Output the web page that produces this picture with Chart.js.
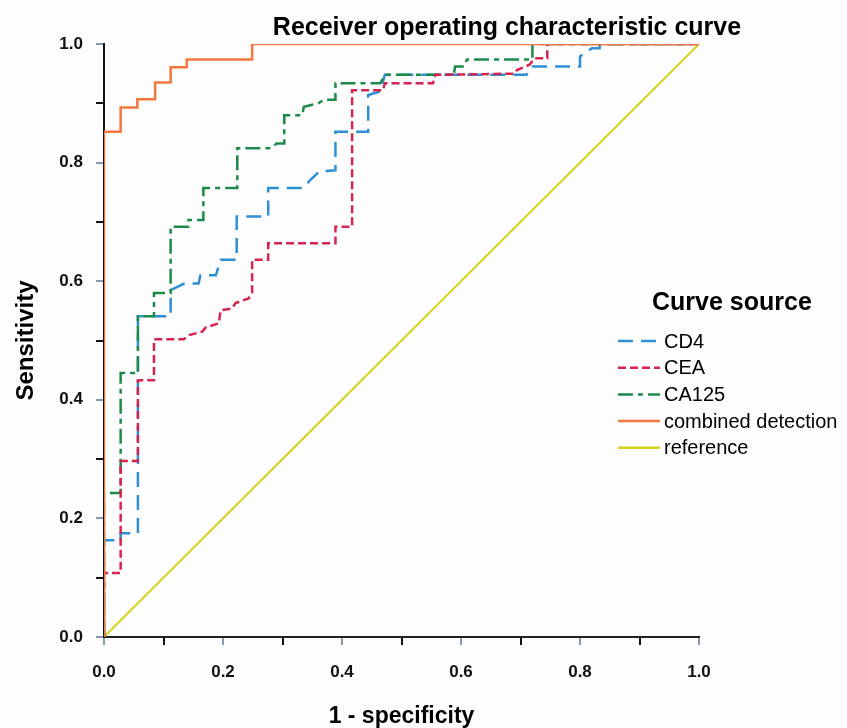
<!DOCTYPE html>
<html lang="en">
<head>
<meta charset="UTF-8">
<title>ROC curve</title>
<script src="https://cdn.jsdelivr.net/npm/chart.js"></script>
<style>
  * { margin: 0; padding: 0; box-sizing: border-box; }
  body { background: #fdfdfd; }
  .chartBox { width: 847px; height: 728px; }
</style>
</head>
<body>
<div class="chartBox">
  <canvas id="myChart" width="847" height="728"></canvas>
</div>

<script>
// data block
const seriesNames = ['CD4', 'CEA', 'CA125', 'combined detection', 'reference'];

const cd4Fpr  = [0, 0, 0.028, 0.028, 0.057, 0.057, 0.112, 0.112, 0.135, 0.159, 0.162, 0.188, 0.196, 0.223, 0.223, 0.276, 0.276, 0.335, 0.347, 0.362, 0.389, 0.389, 0.444, 0.444, 0.464, 0.472, 0.71, 0.72, 0.80, 0.80, 0.82, 0.833, 0.833, 1];
const cd4Sens = [0, 0.163, 0.163, 0.175, 0.175, 0.541, 0.541, 0.585, 0.596, 0.596, 0.61, 0.61, 0.636, 0.636, 0.709, 0.709, 0.757, 0.757, 0.771, 0.785, 0.787, 0.852, 0.852, 0.914, 0.92, 0.948, 0.948, 0.962, 0.962, 0.979, 0.993, 0.993, 1, 1];

const ceaFpr  = [0, 0, 0.028, 0.028, 0.057, 0.057, 0.084, 0.084, 0.134, 0.143, 0.165, 0.171, 0.193, 0.196, 0.215, 0.221, 0.243, 0.249, 0.249, 0.276, 0.276, 0.389, 0.389, 0.417, 0.417, 0.469, 0.472, 0.553, 0.557, 0.69, 0.694, 0.715, 0.724, 0.745, 0.745, 1];
const ceaSens = [0, 0.108, 0.108, 0.297, 0.297, 0.433, 0.433, 0.502, 0.502, 0.509, 0.515, 0.522, 0.529, 0.551, 0.554, 0.563, 0.571, 0.581, 0.636, 0.636, 0.664, 0.664, 0.692, 0.692, 0.922, 0.922, 0.934, 0.934, 0.948, 0.95, 0.956, 0.965, 0.976, 0.976, 1, 1];

const ca125Fpr  = [0, 0, 0.028, 0.028, 0.057, 0.057, 0.084, 0.084, 0.112, 0.112, 0.142, 0.142, 0.167, 0.167, 0.224, 0.224, 0.28, 0.29, 0.303, 0.303, 0.333, 0.336, 0.36, 0.37, 0.389, 0.389, 0.464, 0.473, 0.588, 0.59, 0.605, 0.61, 0.72, 0.72, 1];
const ca125Sens = [0, 0.243, 0.243, 0.445, 0.445, 0.541, 0.541, 0.58, 0.58, 0.692, 0.692, 0.703, 0.703, 0.757, 0.757, 0.824, 0.824, 0.832, 0.832, 0.88, 0.88, 0.894, 0.9, 0.906, 0.906, 0.934, 0.934, 0.948, 0.948, 0.962, 0.962, 0.974, 0.974, 1, 1];

const combFpr  = [0, 0, 0.028, 0.028, 0.056, 0.056, 0.086, 0.086, 0.112, 0.112, 0.139, 0.139, 0.249, 0.249, 1];
const combSens = [0, 0.852, 0.852, 0.893, 0.893, 0.907, 0.907, 0.935, 0.935, 0.961, 0.961, 0.974, 0.974, 1, 1];

const refFpr  = [0, 1];
const refSens = [0, 1];

// style block
const FONT = '"Liberation Sans", Arial, sans-serif';
const colors = ['#2e8fd6', '#d4244f', '#1d8a4a', '#f4773f', '#d4d41c'];
const dashes = [[15, 8], [8, 4], [15, 5, 5, 5], [], []];
const widths = [2.5, 2.5, 2.5, 2.5, 2];

const toPoints = (xs, ys) => xs.map((x, i) => ({ x: x, y: ys[i] }));
const allFpr = [cd4Fpr, ceaFpr, ca125Fpr, combFpr, refFpr];
const allSens = [cd4Sens, ceaSens, ca125Sens, combSens, refSens];

// draw order: combined on top, reference at the bottom
const drawOrder = [3, 1, 2, 0, 4];
const datasets = drawOrder.map(i => ({
    label: seriesNames[i],
    data: toPoints(allFpr[i], allSens[i]),
    showLine: true,
    borderColor: colors[i],
    backgroundColor: colors[i],
    borderDash: dashes[i],
    borderWidth: widths[i],
    pointRadius: 0,
    tension: 0
}));

// plugin block
const decor = {
    id: 'decor',
    beforeDraw(chart) {
        const { ctx } = chart;
        ctx.save();
        ctx.fillStyle = '#fdfdfd';
        ctx.fillRect(0, 0, chart.width, chart.height);
        ctx.restore();
    },
    afterDraw(chart) {
        const { ctx, chartArea: { top, bottom, left, right } } = chart;
        ctx.save();
        ctx.fillStyle = '#000';

        // title
        ctx.font = 'bold 25px ' + FONT;
        ctx.textAlign = 'center';
        ctx.textBaseline = 'alphabetic';
        ctx.fillText('Receiver operating characteristic curve', 507, 35);

        // x axis title
        ctx.font = 'bold 23px ' + FONT;
        ctx.fillText('1 - specificity', (left + right) / 2, 723);

        // y axis title
        ctx.save();
        ctx.translate(33, (top + bottom) / 2);
        ctx.rotate(-Math.PI / 2);
        ctx.font = 'bold 24px ' + FONT;
        ctx.fillText('Sensitivity', 0, 0);
        ctx.restore();

        // legend
        ctx.font = 'bold 25px ' + FONT;
        ctx.textAlign = 'left';
        ctx.textBaseline = 'middle';
        ctx.fillText('Curve source', 652, 303);

        ctx.font = '20px ' + FONT;
        seriesNames.forEach((name, i) => {
            const y = 341 + i * 26.7;
            ctx.beginPath();
            ctx.setLineDash(dashes[i]);
            ctx.strokeStyle = colors[i];
            ctx.lineWidth = 2.5;
            ctx.moveTo(618, y);
            ctx.lineTo(660, y);
            ctx.stroke();
            ctx.setLineDash([]);
            ctx.fillStyle = '#000';
            ctx.fillText(name, 664, y + 1);
        });
        ctx.restore();
    }
};

const tickColor = ctx => (ctx.tick && Math.round(ctx.tick.value * 10) % 2 === 0) ? '#8a9bb0' : '#111';
const tickLabel = v => (Math.round(v * 10) % 2 === 0) ? Number(v).toFixed(1) : '';

// config block
const config = {
    type: 'scatter',
    data: { datasets },
    options: {
        responsive: false,
        animation: false,
        layout: { padding: { top: 44, right: 148, bottom: 0, left: 0 } },
        plugins: {
            legend: { display: false },
            tooltip: { enabled: false },
            title: { display: false }
        },
        scales: {
            x: {
                type: 'linear',
                min: 0,
                max: 1,
                afterFit: scale => { scale.height = 91; },
                ticks: {
                    stepSize: 0.1,
                    callback: tickLabel,
                    color: '#111',
                    padding: 17,
                    maxRotation: 0,
                    autoSkip: false,
                    font: { family: FONT, size: 17, weight: 'bold' }
                },
                grid: { drawOnChartArea: false, tickLength: 8, lineWidth: 2, color: tickColor },
                border: { display: true, color: '#222', width: 2 }
            },
            y: {
                type: 'linear',
                min: 0,
                max: 1,
                afterFit: scale => { scale.width = 104; },
                ticks: {
                    stepSize: 0.1,
                    callback: tickLabel,
                    color: '#111',
                    padding: 13,
                    autoSkip: false,
                    font: { family: FONT, size: 17, weight: 'bold' }
                },
                grid: { drawOnChartArea: false, tickLength: 8, lineWidth: 2, color: tickColor },
                border: { display: true, color: '#111', width: 2 }
            }
        }
    },
    plugins: [decor]
};

// render block
const myChart = new Chart(document.getElementById('myChart'), config);
</script>
</body>
</html>
